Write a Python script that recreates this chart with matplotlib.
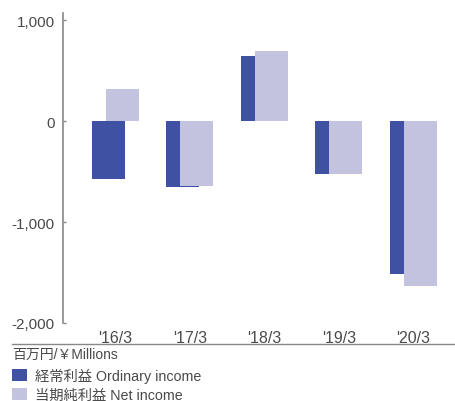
import matplotlib
matplotlib.use("Agg")
import matplotlib.pyplot as plt
from matplotlib.lines import Line2D
import numpy as np

plt.rcParams['font.family'] = ['Liberation Sans', 'Noto Sans CJK JP', 'DejaVu Sans']

# data (百万円)
years = ["'16/3", "'17/3", "'18/3", "'19/3", "'20/3"]
ordinary_income = [-574, -655, 644, -525, -1510]
net_income = [317, -644, 693, -525, -1634]

dark = '#3f51a3'
light = '#c3c3e0'
text_col = '#4a4a4a'
axis_col = '#888888'

fig = plt.figure(figsize=(4.55, 4.02), dpi=100)
W, H = 455, 402
ax = fig.add_axes([63 / W, 1 - 324 / H, (455 - 63) / W, (324 - 14) / H])

x = np.arange(len(years))
w = 0.443
off = 0.094
ax.bar(x - off, ordinary_income, width=w, color=dark, label='経常利益 Ordinary income', zorder=2)
ax.bar(x + off, net_income, width=w, color=light, label='当期純利益 Net income', zorder=3)

ax.set_xlim(-0.705, 4.56)
ax.set_ylim(-2000, 1070)
ax.set_yticks([1000, 0, -1000, -2000])
ax.set_yticklabels(['1,000', '0', '-1,000', '-2,000'])
ax.set_xticks(x)
ax.set_xticklabels(years)

for s in ['top', 'right', 'bottom']:
    ax.spines[s].set_visible(False)
ax.spines['left'].set_color(axis_col)
ax.spines['left'].set_linewidth(1.2)
ax.tick_params(axis='y', direction='in', length=2.5, width=1, color=axis_col,
               labelsize=11, labelcolor=text_col, pad=6)
ax.tick_params(axis='x', length=0, labelsize=11.5, labelcolor=text_col, pad=5)

# baseline under the axis labels
fig.add_artist(Line2D([12 / W, 1.0], [1 - 345 / H, 1 - 345 / H],
                      color=axis_col, linewidth=1, transform=fig.transFigure))
fig.text(12 / W, 1 - 355 / H, '百万円/￥Millions', fontsize=10, color=text_col,
         ha='left', va='center')

handles, labels = ax.get_legend_handles_labels()
fig.legend(handles, labels, loc='upper left', bbox_to_anchor=(12 / W, 1 - 369 / H),
           frameon=False, fontsize=10.3, labelcolor=text_col, handlelength=1.07,
           handleheight=0.9, handletextpad=0.55, labelspacing=0.32,
           borderpad=0, borderaxespad=0)

fig.savefig('out.png', dpi=100)
